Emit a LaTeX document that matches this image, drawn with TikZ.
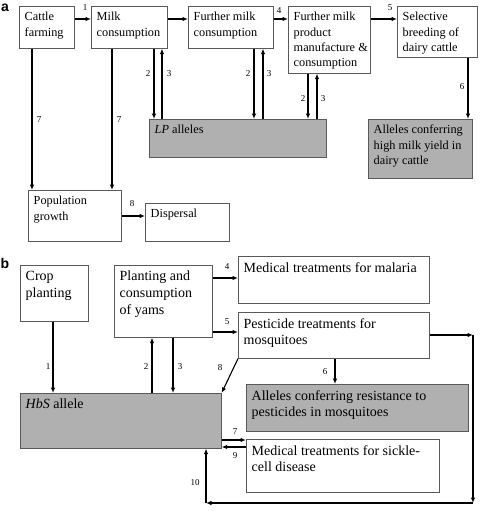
\documentclass[tikz,border=0pt]{standalone}
\usepackage{fontspec}
\setmainfont{Liberation Serif}
\setsansfont{Liberation Sans}
\usetikzlibrary{arrows.meta}

\tikzset{
  box/.style={draw=black!65, line width=0.6pt, anchor=north west, inner sep=0pt},
  allele/.style={box, fill=black!31},
  txt/.style={anchor=north west, align=left, inner xsep=5.5pt, inner ysep=6pt},
  arr/.style={-{Latex[length=5.5pt,width=4.5pt]}, line width=1.1pt},
  num/.style={font=\fontsize{9}{10}\selectfont, inner sep=0pt},
  panel/.style={font=\sffamily\bfseries\fontsize{14}{14}\selectfont, inner sep=0pt}
}

\begin{document}
\begin{tikzpicture}[x=1pt,y=-1pt]
  \useasboundingbox (0,0) rectangle (480,511);

  % panel a
  \begin{scope}[every node/.append style={font=\fontsize{12.3}{15.3}\selectfont}]
    \node[panel] (lbla) at (5,8) {a};

    \node[box, minimum width=55, minimum height=42] (cattle) at (19,6) {};
    \node[txt] (cattlet) at (cattle.north west) {Cattle\\farming};
    \node[box, minimum width=76, minimum height=42] (milk) at (91,6) {};
    \node[txt] (milkt) at (milk.north west) {Milk\\consumption};
    \node[box, minimum width=85, minimum height=42] (further) at (188,6) {};
    \node[txt] (furthert) at (further.north west) {Further milk\\consumption};
    \node[box, minimum width=82, minimum height=67] (product) at (288,6) {};
    \node[txt] (productt) at (product.north west) {Further milk\\product\\manufacture \&\\consumption};
    \node[box, minimum width=80, minimum height=51] (breeding) at (397,6) {};
    \node[txt] (breedingt) at (breeding.north west) {Selective\\breeding of\\dairy cattle};

    \node[allele, minimum width=177, minimum height=38] (lp) at (149,119) {};
    \node[txt] (lpt) at (lp.north west) {\textit{LP} alleles};
    \node[allele, minimum width=104, minimum height=59] (yield) at (368,119) {};
    \node[txt] (yieldt) at (yield.north west) {Alleles conferring\\high milk yield in\\dairy cattle};

    \node[box, minimum width=93, minimum height=51] (pop) at (28,190) {};
    \node[txt] (popt) at (pop.north west) {Population\\growth};
    \node[box, minimum width=84, minimum height=38] (dispersal) at (145,203) {};
    \node[txt] (dispersalt) at (dispersal.north west) {Dispersal};
  \end{scope}

  \draw[arr] (cattle.east |- 0,19) -- (milk.west |- 0,19);
  \draw[arr] (milk.east |- 0,19) -- (further.west |- 0,19);
  \draw[arr] (further.east |- 0,19) -- (product.west |- 0,19);
  \draw[arr] (product.east |- 0,19) -- (breeding.west |- 0,19);
  \draw[arr] (milk.south -| 154,0) -- (lp.north -| 154,0);
  \draw[arr] (lp.north -| 162,0) -- (milk.south -| 162,0);
  \draw[arr] (further.south -| 254,0) -- (lp.north -| 254,0);
  \draw[arr] (lp.north -| 263,0) -- (further.south -| 263,0);
  \draw[arr] (product.south -| 308,0) -- (lp.north -| 308,0);
  \draw[arr] (lp.north -| 317,0) -- (product.south -| 317,0);
  \draw[arr] (breeding.south -| 468,0) -- (yield.north -| 468,0);
  \draw[arr] (cattle.south -| 32,0) -- (pop.north -| 32,0);
  \draw[arr] (milk.south -| 112,0) -- (pop.north -| 112,0);
  \draw[arr] (pop.east |- 0,216) -- (dispersal.west |- 0,216);

  \node[num] (na1) at (85,8) {1};
  \node[num] (na4) at (279,11) {4};
  \node[num] (na5) at (390,8) {5};
  \node[num] (na2a) at (148,74) {2};
  \node[num] (na3a) at (169,74) {3};
  \node[num] (na2b) at (248,74) {2};
  \node[num] (na3b) at (269,74) {3};
  \node[num] (na2c) at (303,99) {2};
  \node[num] (na3c) at (323,99) {3};
  \node[num] (na6) at (462,87) {6};
  \node[num] (na7a) at (39,120) {7};
  \node[num] (na7b) at (119,120) {7};
  \node[num] (na8) at (132,204) {8};

  % panel b
  \begin{scope}[every node/.append style={font=\fontsize{14}{16.7}\selectfont}]
    \node[panel] (lblb) at (5,263) {b};

    \node[box, minimum width=68, minimum height=56] (crop) at (20,265) {};
    \node[txt] (cropt) at (crop.north west) {Crop\\planting};
    \node[box, minimum width=98, minimum height=72] (yams) at (114,265) {};
    \node[txt] (yamst) at (yams.north west) {Planting and\\consumption\\of yams};
    \node[box, minimum width=191, minimum height=47] (malaria) at (238,256) {};
    \node[txt] (malariat) at (malaria.north west) {Medical treatments for malaria};
    \node[box, minimum width=191, minimum height=46] (pesticide) at (238,312) {};
    \node[txt] (pesticidet) at (pesticide.north west) {Pesticide treatments for\\mosquitoes};

    \node[allele, minimum width=201, minimum height=55] (hbs) at (20,393) {};
    \node[txt] (hbst) at (hbs.north west) {\textit{HbS} allele};
    \node[allele, minimum width=222, minimum height=47] (resist) at (246,384) {};
    \node[txt] (resistt) at (resist.north west) {Alleles conferring resistance to\\pesticides in mosquitoes};
    \node[box, minimum width=193, minimum height=53] (sickle) at (246,439) {};
    \node[txt] (sicklet) at (sickle.north west) {Medical treatments for sickle-\\cell disease};
  \end{scope}

  \coordinate (loopa) at (473,335);
  \coordinate (loopb) at (473,503);
  \coordinate (loopc) at (206,503);

  \draw[arr] (crop.south -| 53,0) -- (hbs.north -| 53,0);
  \draw[arr] (hbs.north -| 152,0) -- (yams.south -| 152,0);
  \draw[arr] (yams.south -| 173,0) -- (hbs.north -| 173,0);
  \draw[arr] (yams.east |- 0,278) -- (malaria.west |- 0,278);
  \draw[arr] (yams.east |- 0,332) -- (pesticide.west |- 0,332);
  \draw[arr] (pesticide.south -| 335,0) -- (resist.north -| 335,0);
  \draw[arr] (pesticide.south west) -- (hbs.north east);
  \draw[arr] (hbs.east |- 0,440) -- (sickle.west |- 0,440);
  \draw[arr] (sickle.west |- 0,447) -- (hbs.east |- 0,447);
  \draw[arr] (pesticide.east |- loopa) -- (loopa);
  \draw[arr] (loopa) -- (loopb);
  \draw[arr] (loopb) -- (loopc);
  \draw[arr] (loopc) -- (hbs.south -| loopc);

  \node[num] (nb1) at (48,367) {1};
  \node[num] (nb2) at (146,367) {2};
  \node[num] (nb3) at (180,367) {3};
  \node[num] (nb4) at (227,267) {4};
  \node[num] (nb5) at (227,322) {5};
  \node[num] (nb6) at (325,372) {6};
  \node[num] (nb8) at (220,368) {8};
  \node[num] (nb7) at (235,432) {7};
  \node[num] (nb9) at (235,456) {9};
  \node[num] (nb10) at (195,483) {10};
\end{tikzpicture}
\end{document}
